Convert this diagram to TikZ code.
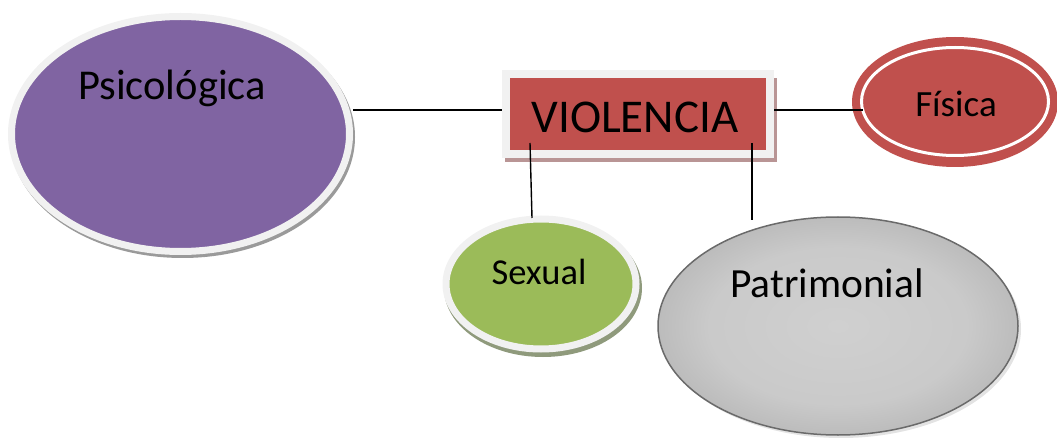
\documentclass[tikz,border=0pt]{standalone}
\usepackage{fontspec}
\setmainfont{Carlito}
\usetikzlibrary{shapes.geometric}
\definecolor{vpurple}{HTML}{8064A2}
\definecolor{vred}{HTML}{C0504D}
\definecolor{vgreen}{HTML}{9BBB59}
\definecolor{ringgray}{HTML}{F1F1F1}
\definecolor{shgray}{HTML}{9A9A9A}
\definecolor{shgreen}{HTML}{8F9A7C}
\definecolor{shred}{HTML}{B99595}
\definecolor{edgegray}{HTML}{6A6A6A}
\definecolor{lightg}{HTML}{D0D0D0}
\definecolor{darkg}{HTML}{8A8A8A}
\pgfdeclareradialshading{patsh}{\pgfpoint{0bp}{0bp}}{color(0bp)=(lightg); color(18bp)=(lightg!97!black); color(50bp)=(darkg); color(72bp)=(darkg)}
\begin{document}
\begin{tikzpicture}[x=1pt,y=-1pt,
  bubble/.style={ellipse, inner sep=0pt, draw=ringgray, line width=7pt},
  lbl/.style={anchor=base, inner sep=0pt, text=black},
  conn/.style={line width=1.4pt, black}]
\useasboundingbox (0,0) rectangle (1057,438);
% Psicologica
\fill[shgray] (182.5,137) ellipse [x radius=172.5, y radius=121];
\node[bubble, fill=vpurple, minimum width=338pt, minimum height=235pt] (psi) at (180.5,134) {};
\node[lbl, font=\fontsize{42.5}{46}\selectfont] (psit) at (172,100) {Psicológica};
% Sexual
\fill[shgreen] (543,288) ellipse [x radius=99, y radius=69];
\node[bubble, fill=vgreen, minimum width=190pt, minimum height=130pt] (sex) at (541,284) {};
\node[lbl, font=\fontsize{36.5}{40}\selectfont] (sext) at (539,284) {Sexual};
% Patrimonial
\fill[lightg!60] (841,329) ellipse [x radius=180, y radius=109];
\node[ellipse, inner sep=0pt, minimum width=360pt, minimum height=218pt,
  draw=edgegray, line width=1.5pt, shading=patsh] (pat) at (838,326) {};
\node[lbl, font=\fontsize{41.5}{44}\selectfont] (patt) at (827,298) {Patrimonial};
% Fisica
\node[ellipse, inner sep=0pt, minimum width=206pt, minimum height=130pt, fill=vred] (fis) at (955,102) {};
\draw[white, line width=3pt] (955,101.5) ellipse [x radius=93.5, y radius=54];
\node[lbl, font=\fontsize{37}{40}\selectfont] (fist) at (956,117) {Física};
% VIOLENCIA
\fill[shred] (505,78) rectangle (777,162);
\node[rectangle, inner sep=0pt, minimum width=264pt, minimum height=80pt, fill=vred, draw=ringgray, line width=8pt] (vio) at (638,114) {};
\node[lbl, font=\fontsize{47}{50}\selectfont] (viot) at (635,133) {VIOLENCIA};
% connectors
\coordinate (a1) at (530,143);
\coordinate (a2) at (532,218);
\coordinate (b1) at (752,143);
\coordinate (b2) at (752,220);
\draw[conn] (psi.east |- 0,110) -- (vio.west |- 0,110);
\draw[conn] (vio.east |- 0,110) -- (863,110);
\draw[conn] (a1) -- (a2);
\draw[conn] (b1) -- (b2);
\end{tikzpicture}
\end{document}
